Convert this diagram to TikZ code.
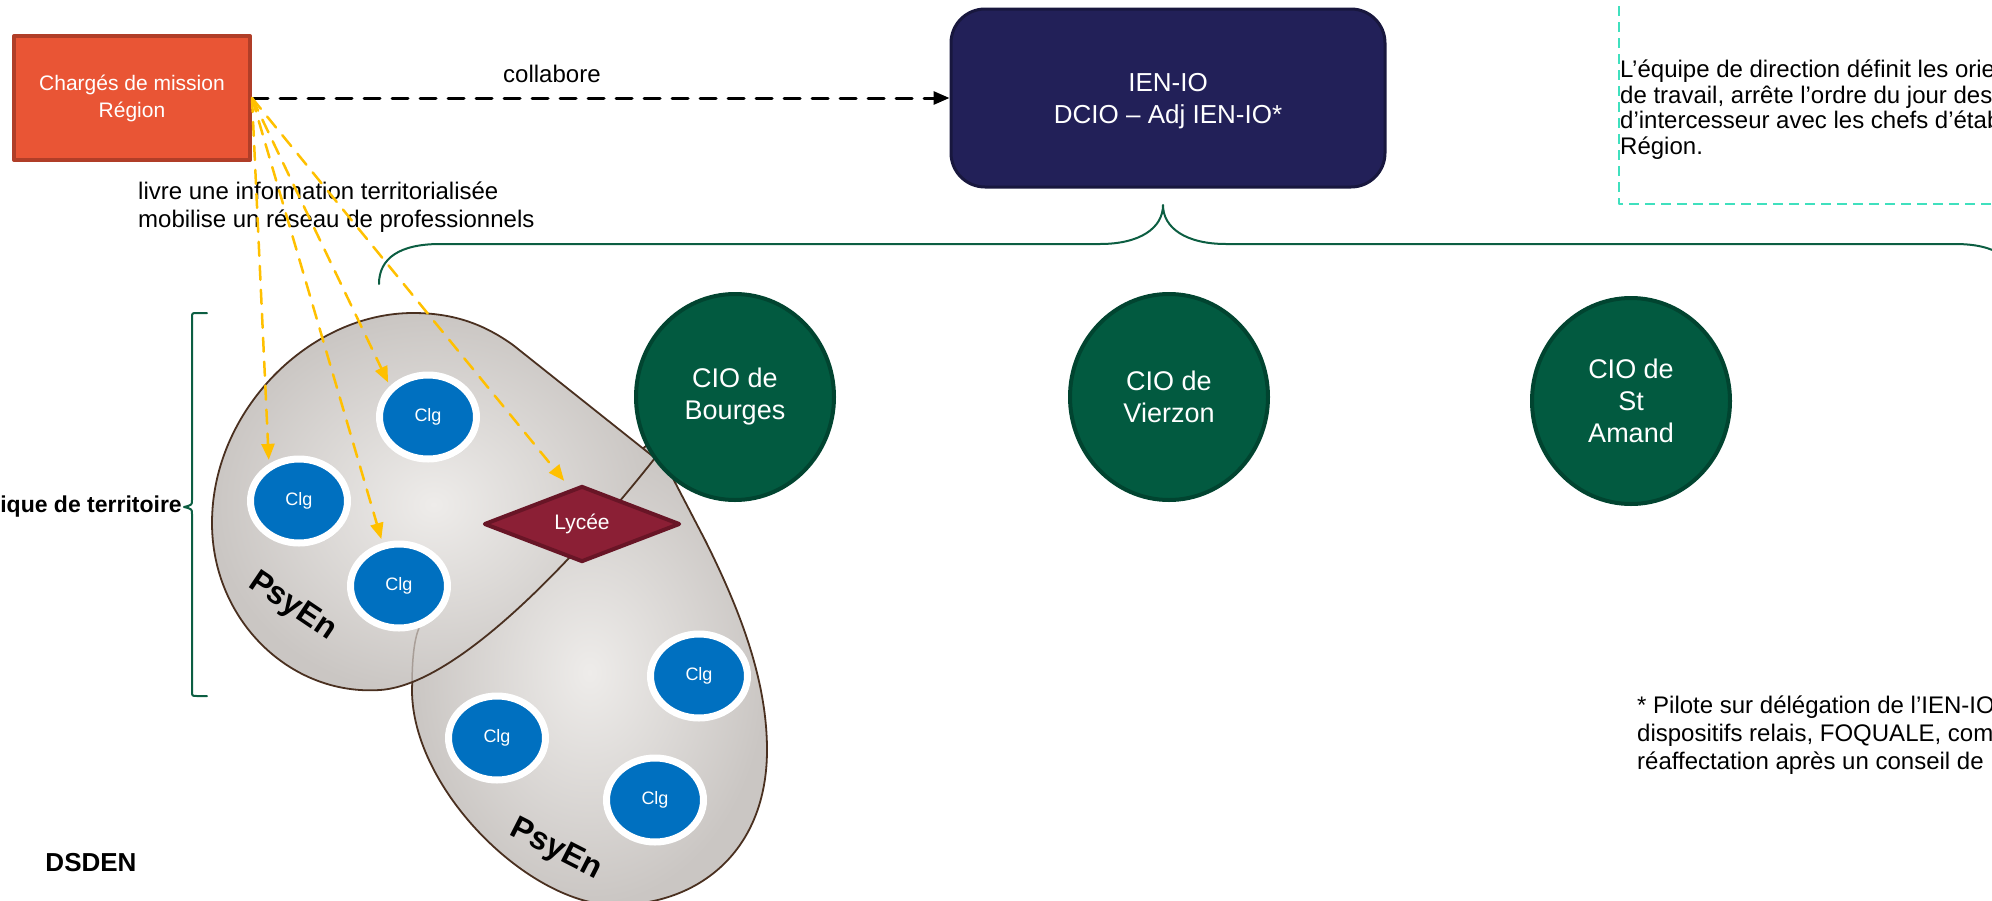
\documentclass[tikz,border=0pt]{standalone}
\usepackage{fontspec}
\setmainfont{Liberation Sans}
\usetikzlibrary{shapes.geometric,arrows.meta,shadows}
\definecolor{regfill}{RGB}{233,85,53}
\definecolor{regline}{RGB}{176,62,40}
\definecolor{navy}{RGB}{34,32,88}
\definecolor{navyline}{RGB}{24,23,62}
\definecolor{ciofill}{RGB}{2,90,64}
\definecolor{cioline}{RGB}{1,68,48}
\definecolor{bracegreen}{RGB}{12,94,66}
\definecolor{clgblue}{RGB}{0,112,192}
\definecolor{lyfill}{RGB}{139,31,53}
\definecolor{lyline}{RGB}{104,21,38}
\definecolor{blobin}{RGB}{238,236,234}
\definecolor{blobout}{RGB}{202,198,195}
\definecolor{blobline}{RGB}{74,48,32}
\definecolor{gold}{RGB}{255,192,0}
\definecolor{aqua}{RGB}{64,224,190}
\begin{document}
\begin{tikzpicture}[x=1pt,y=-1pt,>={Triangle[length=16pt,width=13pt]},line join=round,line cap=round,
	region/.style={draw=regline,fill=regfill,line width=4pt,minimum width=236pt,minimum height=124pt,text=white,align=center,font=\fontsize{21}{27}\selectfont},
	dir/.style={draw=navyline,fill=navy,line width=3pt,rounded corners=34pt,minimum width=434pt,minimum height=178pt,text depth=0pt,text=white,align=center,font=\fontsize{26}{32}\selectfont},
	cio/.style={ellipse,draw=cioline,fill=ciofill,line width=4pt,minimum width=198pt,minimum height=206pt,inner sep=0pt,text=white,align=center,font=\fontsize{27}{32}\selectfont},
	clg/.style={ellipse,draw=white,fill=clgblue,line width=7pt,minimum width=97pt,minimum height=84pt,inner sep=0pt,text=white,font=\fontsize{18}{20}\selectfont,drop shadow={opacity=.25,shadow xshift=2pt,shadow yshift=-3pt}},
	lyc/.style={diamond,aspect=2.5,draw=lyline,fill=lyfill,line width=4pt,minimum width=196pt,minimum height=76pt,inner sep=0pt,text=white,font=\fontsize{21}{24}\selectfont},
	blob/.style={draw=blobline,line width=1.8pt,inner color=blobin,outer color=blobout},
	psy/.style={font=\bfseries\fontsize{32}{36}\selectfont},
	yel/.style={->,draw=gold,line width=2.5pt,dash pattern=on 14pt off 10pt},
	brc/.style={draw=bracegreen,line width=2pt},
	txt/.style={align=left,inner sep=0pt,font=\fontsize{24}{28}\selectfont}]
	\useasboundingbox (0,0) rectangle (1992,900);
	%	\draw[gray!40] (0,0) grid[step=100pt] (1992,900);
	\draw[aqua,line width=2pt,dash pattern=on 10pt off 6pt,line cap=butt] (1619,-10) rectangle (2010,204);
	\node[txt,font=\fontsize{24}{25.5}\selectfont,anchor=north west] (equipe) at (1620,60) {L’équipe de direction définit les orie\\de travail, arrête l’ordre du jour des\\d’intercesseur avec les chefs d’étab\\Région.};
	\draw[brc] (379,284) .. controls (379,258) and (400,244) .. (440,244) -- (1100,244) .. controls (1140,244) and (1163,228) .. (1163,205) .. controls (1163,228) and (1186,244) .. (1226,244) -- (1955,244) .. controls (1995,244) and (2016,258) .. (2016,284);
	\draw[brc] (207,313) -- (197,313) .. controls (192,313) .. (192,318) -- (192,500) .. controls (192,505) .. (184,507) .. controls (192,509) .. (192,514) -- (192,691) .. controls (192,696) .. (197,696) -- (207,696);
	% deux bassins PsyEn
	\shade[blob] (653,440) -- (705,540) .. controls (740,610) and (767,680) .. (767,750) .. controls (767,850) and (700,905) .. (615,905) .. controls (530,905) and (412,790) .. (412,690) .. controls (412,600) and (560,520) .. (653,440) -- cycle;
	\shade[blob] (413,313) .. controls (455,313) and (485,325) .. (513,345) -- (655,458) .. controls (610,515) and (470,684) .. (380,690) .. controls (290,696) and (212,620) .. (212,523) .. controls (212,410) and (310,313) .. (413,313) -- cycle;
	\draw[blobline,line width=1.5pt,opacity=.3] (412,688) .. controls (412,660) and (414,640) .. (419,628);
	\node[psy,rotate=-34] (psyA) at (292,607) {PsyEn};
	\node[psy,rotate=-27] (psyB) at (556,850) {PsyEn};
	\node[clg] (clgC) at (428,417) {Clg};
	\node[clg] (clgA) at (299,501) {Clg};
	\node[clg] (clgB) at (399,586) {Clg};
	\node[clg] (clgD) at (699,676) {Clg};
	\node[clg] (clgE) at (497,738) {Clg};
	\node[clg] (clgF) at (655,800) {Clg};
	\node[lyc] (lycee) at (582,524) {Lycée};
	\node[cio] (bourges) at (735,397) {CIO de\\Bourges};
	\node[cio] (vierzon) at (1169,397) {CIO de\\Vierzon};
	\node[cio] (amand) at (1631,401) {CIO de\\St\\Amand};
	\node[region] (region) at (132,98) {Chargés de mission\\Région};
	\node[dir] (ien) at (1168,98) {IEN-IO\\DCIO – Adj IEN-IO*};
	\draw[->,line width=3pt,dash pattern=on 16pt off 12pt] (region.east) -- node[pos=.43,yshift=24pt,font=\fontsize{24}{28}\selectfont]{collabore} (ien.west);
	\node[txt,anchor=west] (livre) at (138,207) {livre une information territorialisée\\mobilise un réseau de professionnels};
	\node[font=\bfseries\fontsize{23}{26}\selectfont,anchor=east,inner sep=0pt] (logique) at (182,507) {ique de territoire};
	\node[font=\bfseries\fontsize{26}{30}\selectfont] (dsden) at (91,863) {DSDEN};
	\node[txt,anchor=north west] (pilote) at (1637,696) {* Pilote sur délégation de l’IEN-IO\\dispositifs relais, FOQUALE, com\\réaffectation après un conseil de};
	\foreach \cible/\ecart in {clgA.129/4,clgB.111/4,clgC.141/4,lycee.108/10}
		\draw[yel,shorten >=\ecart pt] (region.east) -- (\cible);
\end{tikzpicture}
\end{document}
